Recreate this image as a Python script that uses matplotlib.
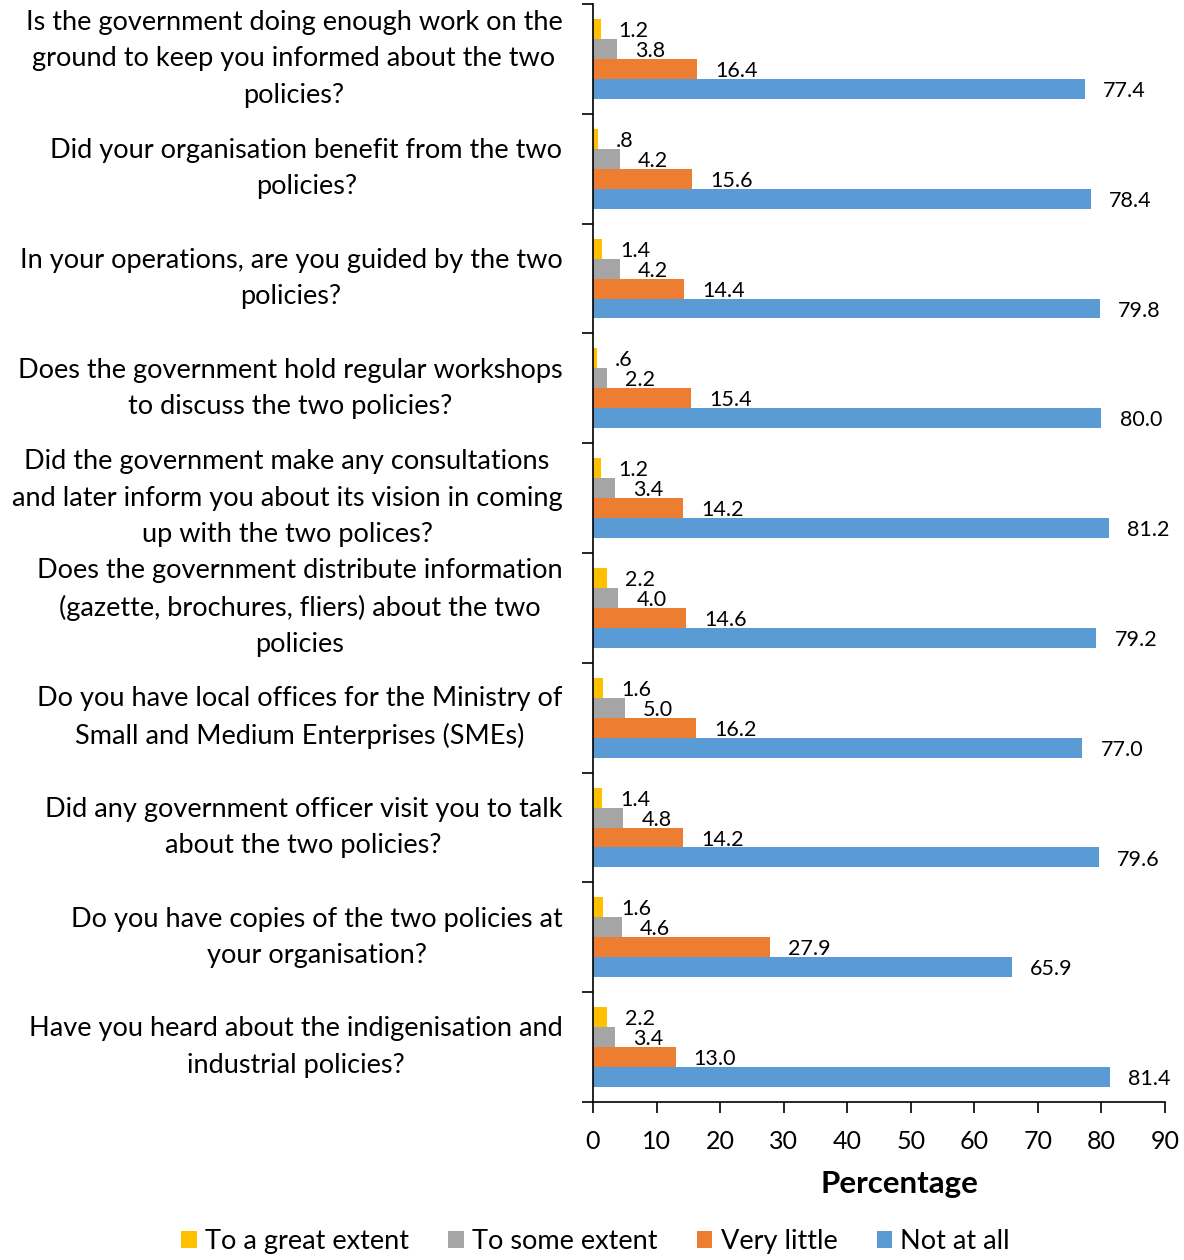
import matplotlib.pyplot as plt
import numpy as np

plt.rcParams['font.family'] = ['Lato', 'DejaVu Sans']

# questions, top to bottom as in the chart
questions = [
    "Is the government doing enough work on the\nground to keep you informed about the two\npolicies?",
    "Did your organisation benefit from the two\npolicies?",
    "In your operations, are you guided by the two\npolicies?",
    "Does the government hold regular workshops\nto discuss the two policies?",
    "Did the government make any consultations\nand later inform you about its vision in coming\nup with the two polices?",
    "Does the government distribute information\n(gazette, brochures, fliers) about the two\npolicies",
    "Do you have local offices for the Ministry of\nSmall and Medium Enterprises (SMEs)",
    "Did any government officer visit you to talk\nabout the two policies?",
    "Do you have copies of the two policies at\nyour organisation?",
    "Have you heard about the indigenisation and\nindustrial policies?",
]

great_extent = [1.2, 0.8, 1.4, 0.6, 1.2, 2.2, 1.6, 1.4, 1.6, 2.2]
some_extent = [3.8, 4.2, 4.2, 2.2, 3.4, 4.0, 5.0, 4.8, 4.6, 3.4]
very_little = [16.4, 15.6, 14.4, 15.4, 14.2, 14.6, 16.2, 14.2, 27.9, 13.0]
not_at_all = [77.4, 78.4, 79.8, 80.0, 81.2, 79.2, 77.0, 79.6, 65.9, 81.4]

series_names = ["To a great extent", "To some extent", "Very little", "Not at all"]
colors = ["#FFC000", "#A5A5A5", "#ED7D31", "#5B9BD5"]

def fmt(v):
    s = f"{v:.1f}"
    if s.startswith("0"):
        s = s[1:]
    return s

n = len(questions)
ypos = np.arange(n)[::-1]  # first question on top
h = 0.182
offsets = [1.5 * h, 0.5 * h, -0.5 * h, -1.5 * h]

fig = plt.figure(figsize=(11.84, 12.6), dpi=100)
ax = fig.add_axes([0.5008, 0.1254, 0.4832, 0.8714])

all_series = [great_extent, some_extent, very_little, not_at_all]
for vals, name, col, off in zip(all_series, series_names, colors, offsets):
    bars = ax.barh(ypos + off, vals, height=h, color=col, label=name)
    for b, v in zip(bars, vals):
        ax.annotate(fmt(v), (b.get_width(), b.get_y() + b.get_height() / 2),
                    xytext=(13, -1.5), textcoords="offset points",
                    ha="left", va="center", fontsize=15.5)

ax.set_xlim(0, 90)
ax.set_ylim(-0.5, n - 0.5)
ax.set_xticks(np.arange(0, 91, 10))
ax.tick_params(axis="x", labelsize=18, length=8, width=1.2, pad=12)

ax.set_yticks(ypos)
ax.set_yticklabels(questions, fontsize=19.5, ha="right", va="center",
                   multialignment="center", linespacing=1.56)
ax.tick_params(axis="y", which="major", length=0, pad=22)
ax.set_yticks(np.arange(-0.5, n, 1), minor=True)
ax.tick_params(axis="y", which="minor", length=8, width=1.2)

for s in ["top", "right"]:
    ax.spines[s].set_visible(False)
for s in ["left", "bottom"]:
    ax.spines[s].set_linewidth(1.2)

ax.set_xlabel("Percentage", fontsize=22.5, fontweight="bold")
ax.xaxis.set_label_coords(0.536, -0.062)

handles, labels = ax.get_legend_handles_labels()
fig.legend(handles, labels, loc="center", bbox_to_anchor=(0.503, 0.0143), ncol=4,
           frameon=False, fontsize=19.5, handlelength=0.58, handleheight=0.58,
           handletextpad=0.3, columnspacing=1.45)

fig.savefig("out.png", dpi=100)
